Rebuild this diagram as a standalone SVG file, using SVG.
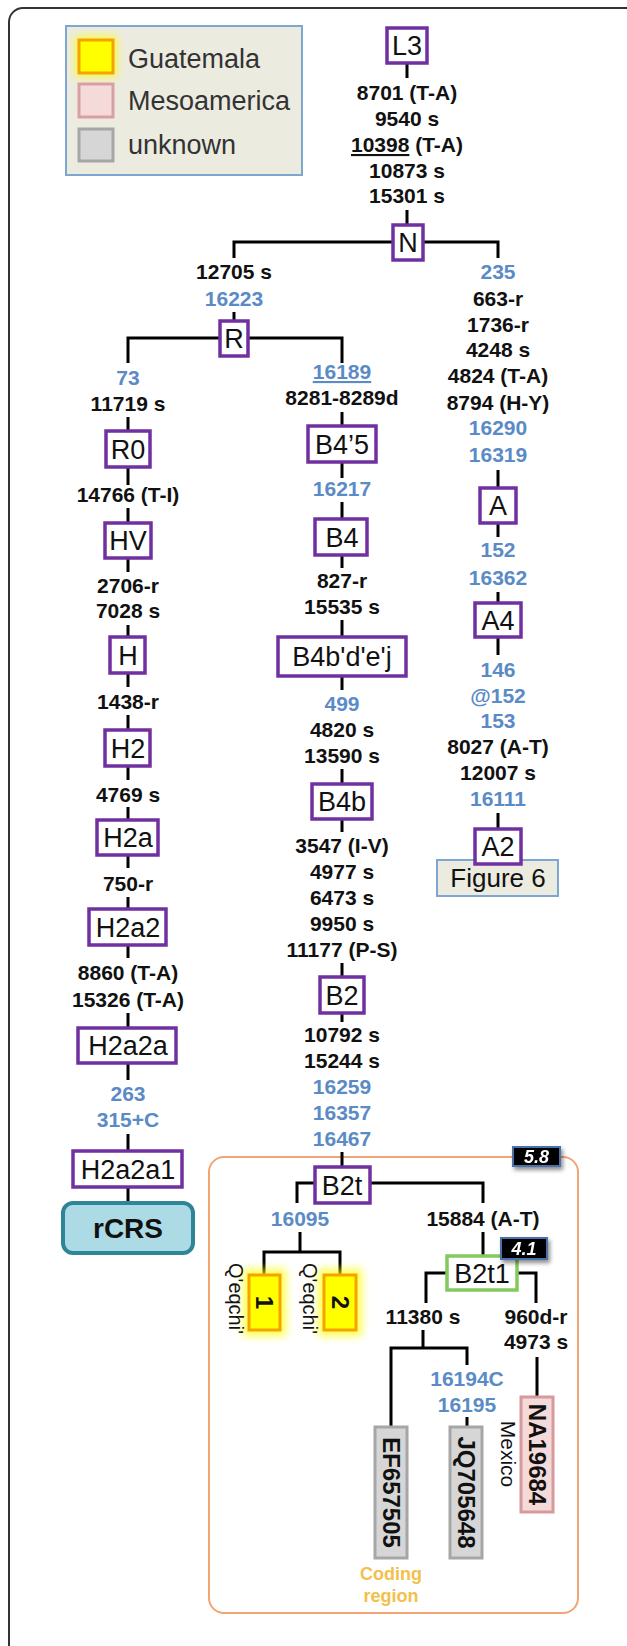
<svg xmlns="http://www.w3.org/2000/svg" width="627" height="1646" viewBox="0 0 627 1646">
<style>
.nd rect{fill:#fff;stroke:#7030a0;stroke-width:3.5}
.nt{font-family:"Liberation Sans",Arial,sans-serif;font-size:27px;text-anchor:middle;fill:#111}
.m{font-family:"Liberation Sans",Arial,sans-serif;font-weight:bold;font-size:21px;text-anchor:middle;fill:#111}
.bl{fill:#5b8bc6}
.conn path{stroke:#000;stroke-width:3;fill:none}
.lg{font-family:"Liberation Sans",Arial,sans-serif;font-size:27px;fill:#333}
.rot{font-family:"Liberation Sans",Arial,sans-serif;font-weight:bold;font-size:24px;text-anchor:middle;dominant-baseline:central;fill:#111}
.tag rect{fill:#000;stroke:#4a72ad;stroke-width:2}
.tag text{font-family:"Liberation Sans",Arial,sans-serif;font-weight:bold;font-style:italic;font-size:18px;fill:#fff;text-anchor:middle}
.yl{fill:#ffff00;stroke:#f5a300;stroke-width:3}
.gr{fill:#d6d6d6;stroke:#a6a6a6;stroke-width:3}
.pk{fill:#f5dada;stroke:#d79a9c;stroke-width:3}
</style>
<defs>
<filter id="glow" x="-50%" y="-50%" width="200%" height="200%"><feGaussianBlur stdDeviation="4"/></filter>
<filter id="sh" x="-30%" y="-30%" width="160%" height="180%"><feDropShadow dx="2" dy="3" stdDeviation="2" flood-color="#000" flood-opacity="0.45"/></filter>
</defs>
<rect x="9" y="8" width="660" height="1700" rx="14" fill="none" stroke="#333" stroke-width="2"/>
<g id="legend">
<rect x="66" y="26" width="236" height="149" fill="#ecebe0" stroke="#7ea6d3" stroke-width="2"/>
<rect x="75" y="36" width="42" height="41" fill="#ffff00" opacity="0.7" filter="url(#glow)"/>
<rect x="79" y="40" width="34" height="33" class="yl"/>
<rect x="79" y="84" width="34" height="33" fill="#f5dada" stroke="#d9a0a2" stroke-width="3"/>
<rect x="79" y="129" width="34" height="32" fill="#d6d6d6" stroke="#a6a6a6" stroke-width="3"/>
<text class="lg" x="128" y="68">Guatemala</text>
<text class="lg" x="128" y="110">Mesoamerica</text>
<text class="lg" x="128" y="154">unknown</text>
</g>
<rect id="b2t-clade" x="209" y="1157" width="369" height="456" rx="15" fill="none" stroke="#f2a574" stroke-width="2"/>
<g class="conn">
<path d="M407,63V78M407,210V225"/>
<path d="M234,258V242H393M423,242H498V258M234,312V321"/>
<path d="M498,470V488M498,523V537M498,592V603M498,637V655M498,813V829"/>
<path d="M128,363V338H220M248,338H342V363"/>
<path d="M128,417V431M128,467V485M128,508V523M128,558V572M128,625V637M128,673V687M128,715V730M128,766V780M128,807V820M128,855V868M128,897V909M128,945V958M128,1013V1028M128,1063V1080M128,1134V1151M128,1187V1203"/>
<path d="M342,412V426M342,462V478M342,502V519M342,555V568M342,620V637M342,676V690M342,769V784M342,819V832M342,963V977M342,1013V1022M342,1152V1167"/>
<path d="M297,1203V1183H315M370,1183H483V1203M300,1232V1252M264,1275V1252H340V1275M483,1232V1256"/>
<path d="M426,1303V1273H447M517,1273H536V1303M423,1330V1348M391,1427V1348H467V1365M467,1417V1427M537,1357V1397"/>
</g>
<g id="mutations">
<text class="m" x="407" y="100">8701 (T-A)</text>
<text class="m" x="407" y="126">9540 s</text>
<text class="m" x="407" y="152"><tspan text-decoration="underline">10398</tspan> (T-A)</text>
<text class="m" x="407" y="178">10873 s</text>
<text class="m" x="407" y="203">15301 s</text>
<text class="m" x="234" y="279">12705 s</text>
<text class="m bl" x="234" y="306">16223</text>
<text class="m bl" x="498" y="279">235</text>
<text class="m" x="498" y="306">663-r</text>
<text class="m" x="498" y="332">1736-r</text>
<text class="m" x="498" y="357">4248 s</text>
<text class="m" x="498" y="383">4824 (T-A)</text>
<text class="m" x="498" y="410">8794 (H-Y)</text>
<text class="m bl" x="498" y="435">16290</text>
<text class="m bl" x="498" y="462">16319</text>
<text class="m bl" x="498" y="557">152</text>
<text class="m bl" x="498" y="585">16362</text>
<text class="m bl" x="498" y="677">146</text>
<text class="m bl" x="498" y="703">@152</text>
<text class="m bl" x="498" y="728">153</text>
<text class="m" x="498" y="754">8027 (A-T)</text>
<text class="m" x="498" y="780">12007 s</text>
<text class="m bl" x="498" y="806">16111</text>
<text class="m bl" x="128" y="385">73</text>
<text class="m" x="128" y="411">11719 s</text>
<text class="m" x="128" y="502">14766 (T-I)</text>
<text class="m" x="128" y="593">2706-r</text>
<text class="m" x="128" y="618">7028 s</text>
<text class="m" x="128" y="709">1438-r</text>
<text class="m" x="128" y="802">4769 s</text>
<text class="m" x="128" y="891">750-r</text>
<text class="m" x="128" y="980">8860 (T-A)</text>
<text class="m" x="128" y="1007">15326 (T-A)</text>
<text class="m bl" x="128" y="1101">263</text>
<text class="m bl" x="128" y="1127">315+C</text>
<text class="m bl" x="342" y="379"><tspan text-decoration="underline">16189</tspan></text>
<text class="m" x="342" y="405">8281-8289d</text>
<text class="m bl" x="342" y="496">16217</text>
<text class="m" x="342" y="588">827-r</text>
<text class="m" x="342" y="614">15535 s</text>
<text class="m bl" x="342" y="711">499</text>
<text class="m" x="342" y="737">4820 s</text>
<text class="m" x="342" y="763">13590 s</text>
<text class="m" x="342" y="853">3547 (I-V)</text>
<text class="m" x="342" y="879">4977 s</text>
<text class="m" x="342" y="905">6473 s</text>
<text class="m" x="342" y="931">9950 s</text>
<text class="m" x="342" y="957">11177 (P-S)</text>
<text class="m" x="342" y="1042">10792 s</text>
<text class="m" x="342" y="1068">15244 s</text>
<text class="m bl" x="342" y="1094">16259</text>
<text class="m bl" x="342" y="1120">16357</text>
<text class="m bl" x="342" y="1146">16467</text>
<text class="m bl" x="300" y="1226">16095</text>
<text class="m" x="483" y="1226">15884 (A-T)</text>
<text class="m" x="423" y="1324">11380 s</text>
<text class="m" x="536" y="1324">960d-r</text>
<text class="m" x="536" y="1349">4973 s</text>
<text class="m bl" x="467" y="1386">16194C</text>
<text class="m bl" x="467" y="1412">16195</text>
</g>
<g id="L3" class="nd"><rect x="387" y="28" width="40" height="35"/><text class="nt" x="407" y="55">L3</text></g>
<g id="N" class="nd"><rect x="393" y="225" width="30" height="35"/><text class="nt" x="408" y="252">N</text></g>
<g id="R" class="nd"><rect x="220" y="321" width="28" height="35"/><text class="nt" x="234" y="348">R</text></g>
<g id="R0" class="nd"><rect x="106" y="431" width="44" height="36"/><text class="nt" x="128" y="459">R0</text></g>
<g id="HV" class="nd"><rect x="105" y="523" width="46" height="35"/><text class="nt" x="128" y="550">HV</text></g>
<g id="H" class="nd"><rect x="110" y="637" width="35" height="36"/><text class="nt" x="128" y="665">H</text></g>
<g id="H2" class="nd"><rect x="105" y="730" width="45" height="36"/><text class="nt" x="128" y="758">H2</text></g>
<g id="H2a" class="nd"><rect x="97" y="820" width="61" height="35"/><text class="nt" x="128" y="847">H2a</text></g>
<g id="H2a2" class="nd"><rect x="89" y="909" width="77" height="36"/><text class="nt" x="128" y="937">H2a2</text></g>
<g id="H2a2a" class="nd"><rect x="78" y="1028" width="98" height="35"/><text class="nt" x="128" y="1055">H2a2a</text></g>
<g id="H2a2a1" class="nd"><rect x="73" y="1151" width="109" height="36"/><text class="nt" x="128" y="1179">H2a2a1</text></g>
<g id="rCRS"><rect x="63" y="1203" width="130" height="50" rx="10" fill="#acdbe6" stroke="#2f8496" stroke-width="4"/><text x="128" y="1238" text-anchor="middle" font-family="Liberation Sans, Arial, sans-serif" font-weight="bold" font-size="28" fill="#111">rCRS</text></g>
<g id="B4-5" class="nd"><rect x="308" y="426" width="68" height="36"/><text class="nt" x="342" y="454">B4’5</text></g>
<g id="B4" class="nd"><rect x="315" y="519" width="52" height="36"/><text class="nt" x="342" y="547">B4</text></g>
<g id="B4bdej" class="nd"><rect x="278" y="637" width="128" height="39"/><text class="nt" x="342" y="666">B4b'd'e'j</text></g>
<g id="B4b" class="nd"><rect x="312" y="784" width="60" height="35"/><text class="nt" x="342" y="811">B4b</text></g>
<g id="B2" class="nd"><rect x="320" y="977" width="44" height="36"/><text class="nt" x="342" y="1005">B2</text></g>
<g id="B2t" class="nd"><rect x="315" y="1167" width="55" height="36"/><text class="nt" x="342" y="1195">B2t</text></g>
<g id="A" class="nd"><rect x="480" y="488" width="36" height="35"/><text class="nt" x="498" y="515">A</text></g>
<g id="A4" class="nd"><rect x="475" y="603" width="46" height="34"/><text class="nt" x="498" y="630">A4</text></g>
<g id="Figure6"><rect x="437" y="860" width="121" height="36" fill="#ecebe0" stroke="#7ea6d3" stroke-width="2"/><text x="498" y="887" text-anchor="middle" font-family="Liberation Sans, Arial, sans-serif" font-size="26" fill="#111">Figure 6</text></g>
<g id="A2" class="nd"><rect x="475" y="829" width="46" height="35"/><text class="nt" x="498" y="856">A2</text></g>
<g id="B2t1"><rect x="447" y="1256" width="70" height="34" fill="#fff" stroke="#84c95e" stroke-width="3.5"/><text class="nt" x="482" y="1283">B2t1</text></g>
<g id="tag58" class="tag" filter="url(#sh)"><rect x="513" y="1147" width="47" height="19"/><text x="536.5" y="1163">5.8</text></g>
<g id="tag41" class="tag" filter="url(#sh)"><rect x="501" y="1238" width="46" height="21"/><text x="524" y="1255">4.1</text></g>
<g id="s1">
<rect x="243" y="1269" width="43" height="67" fill="#ffff00" opacity="0.7" filter="url(#glow)"/>
<rect x="249" y="1275" width="31" height="55" class="yl"/>
<text class="rot" transform="translate(264.5,1302.5) rotate(90)">1</text>
<text transform="translate(229,1263) rotate(90)" font-family="Liberation Sans, Arial, sans-serif" font-size="20" fill="#111">Q'eqchi'</text>
</g>
<g id="s2">
<rect x="318" y="1269" width="44" height="67" fill="#ffff00" opacity="0.7" filter="url(#glow)"/>
<rect x="324" y="1275" width="32" height="55" class="yl"/>
<text class="rot" transform="translate(340,1302.5) rotate(90)">2</text>
<text transform="translate(303,1263) rotate(90)" font-family="Liberation Sans, Arial, sans-serif" font-size="20" fill="#111">Q'eqchi'</text>
</g>
<g id="EF657505">
<rect x="375" y="1427" width="32" height="131" class="gr"/>
<text class="rot" transform="translate(391,1492.5) rotate(90)">EF657505</text>
<text x="391" y="1580" text-anchor="middle" font-family="Liberation Sans, Arial, sans-serif" font-weight="bold" font-size="18" fill="#f4c04a">Coding</text>
<text x="391" y="1602" text-anchor="middle" font-family="Liberation Sans, Arial, sans-serif" font-weight="bold" font-size="18" fill="#f4c04a">region</text>
</g>
<g id="JQ705648">
<rect x="450" y="1427" width="32" height="131" class="gr"/>
<text class="rot" transform="translate(466,1492.5) rotate(90)">JQ705648</text>
</g>
<g id="NA19684">
<rect x="521" y="1397" width="32" height="115" class="pk"/>
<text class="rot" transform="translate(537,1454.5) rotate(90)">NA19684</text>
<text transform="translate(508,1454) rotate(90)" text-anchor="middle" dominant-baseline="central" font-family="Liberation Sans, Arial, sans-serif" font-size="21" fill="#111">Mexico</text>
</g>
</svg>
